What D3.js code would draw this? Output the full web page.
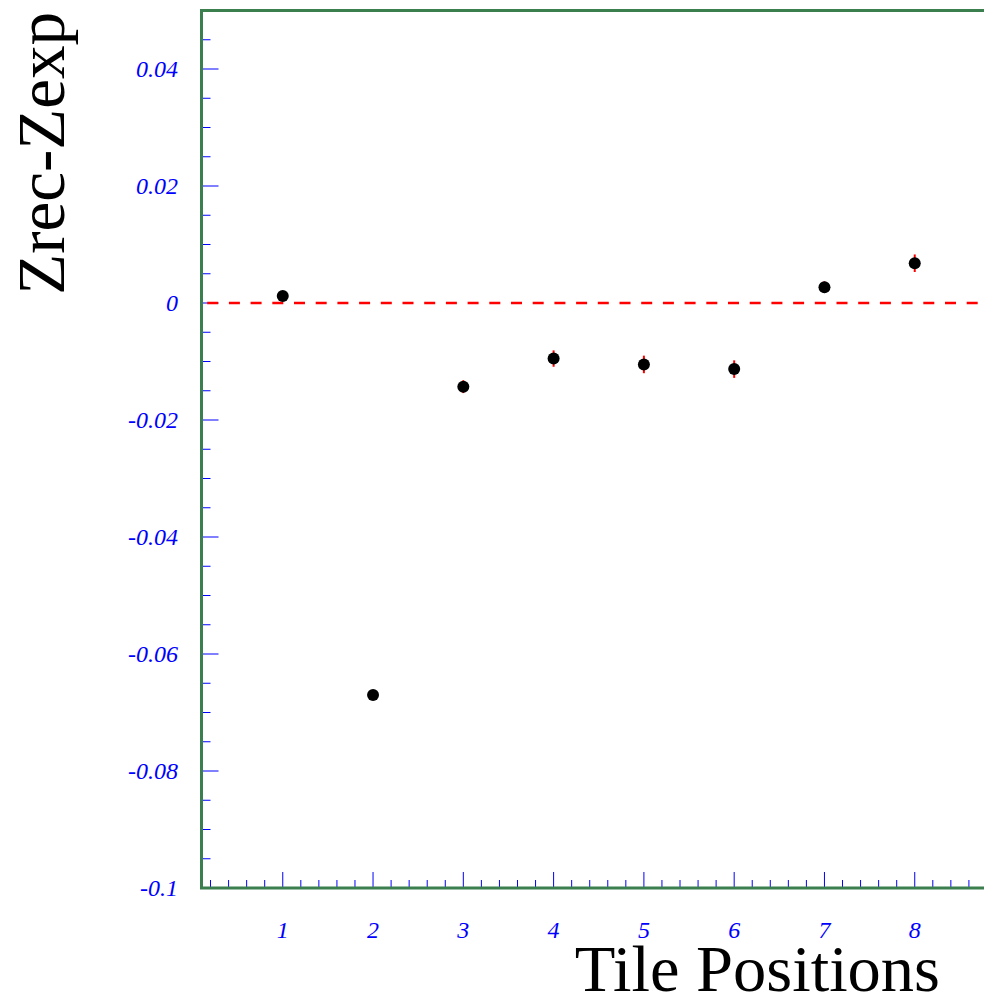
<!DOCTYPE html>
<html>
<head>
<meta charset="utf-8">
<script src="https://cdn.jsdelivr.net/npm/d3@7"></script>
<style>
  body { margin: 0; background: #fff; }
  svg { display: block; }
</style>
</head>
<body>
<script>
// tile positions and the measured offsets
var positions = [1, 2, 3, 4, 5, 6, 7, 8];
var zdiff = [0.0012, -0.0670, -0.0143, -0.0095, -0.0105, -0.0113, 0.0027, 0.0068];
var zerr = [0.0008, 0.0004, 0.0011, 0.0014, 0.0015, 0.0015, 0.0010, 0.0015];
var yLabels = ["0.04", "0.02", "0", "-0.02", "-0.04", "-0.06", "-0.08", "-0.1"];
var yLabelValues = [0.04, 0.02, 0, -0.02, -0.04, -0.06, -0.08, -0.1];

var W = 984, H = 1000;
var frameColor = "#3b7f4f";
var tickColor = "#0000ff";

var svg = d3.select("body").append("svg")
    .attr("width", W)
    .attr("height", H);

var x = d3.scaleLinear().domain([0.1, 8.9]).range([201.5, 996]);
var y = d3.scaleLinear().domain([-0.1, 0.05]).range([888, 10.5]);

// y ticks (drawn inward from the left frame)
var yMinor = d3.range(-0.1, 0.0501, 0.005).map(function(v) { return Math.round(v * 1000) / 1000; });
svg.append("g").selectAll("line")
    .data(yMinor)
  .enter().append("line")
    .attr("x1", x(0.1))
    .attr("x2", function(d) {
      var major = Math.abs(Math.round(d / 0.02) * 0.02 - d) < 1e-6;
      return x(0.1) + (major ? 17 : 9);
    })
    .attr("y1", function(d) { return y(d); })
    .attr("y2", function(d) { return y(d); })
    .style("stroke", tickColor)
    .style("stroke-width", "1px");

// x ticks (drawn upward from the bottom axis)
var xMinor = d3.range(0.2, 8.9, 0.2).map(function(v) { return Math.round(v * 10) / 10; });
svg.append("g").selectAll("line")
    .data(xMinor)
  .enter().append("line")
    .attr("x1", function(d) { return x(d); })
    .attr("x2", function(d) { return x(d); })
    .attr("y1", y(-0.1))
    .attr("y2", function(d) {
      var major = Math.abs(Math.round(d) - d) < 1e-6;
      return y(-0.1) - (major ? 16 : 8);
    })
    .style("stroke", tickColor)
    .style("stroke-width", "1px");

// frame
svg.append("path")
    .style("fill", "none")
    .style("stroke", frameColor)
    .style("stroke-width", "3px")
    .attr("d", "M" + W + "," + y(0.05) + "H" + x(0.1) + "V" + y(-0.1) + "H" + W);

// y tick labels
svg.append("g").selectAll("text")
    .data(yLabelValues)
  .enter().append("text")
    .attr("x", 178)
    .attr("y", function(d) { return y(d); })
    .attr("dy", "0.35em")
    .attr("text-anchor", "end")
    .style("font-family", "'Liberation Serif', 'Times New Roman', serif")
    .style("font-style", "italic")
    .style("font-size", "24px")
    .style("fill", tickColor)
    .text(function(d, i) { return yLabels[i]; });

// x tick labels
svg.append("g").selectAll("text")
    .data(positions)
  .enter().append("text")
    .attr("x", function(d) { return x(d); })
    .attr("y", 938)
    .attr("text-anchor", "middle")
    .style("font-family", "'Liberation Serif', 'Times New Roman', serif")
    .style("font-style", "italic")
    .style("font-size", "24px")
    .style("fill", tickColor)
    .text(function(d) { return d; });

// zero line
svg.append("line")
    .attr("x1", x(0.1))
    .attr("x2", W)
    .attr("y1", y(0))
    .attr("y2", y(0))
    .style("stroke", "#ff0000")
    .style("stroke-width", "2.5px")
    .style("stroke-dasharray", "11,10.7")
    .style("stroke-dashoffset", "16");

// error bars
svg.append("g").selectAll("line")
    .data(positions)
  .enter().append("line")
    .attr("x1", function(d) { return x(d); })
    .attr("x2", function(d) { return x(d); })
    .attr("y1", function(d, i) { return y(zdiff[i] - zerr[i]); })
    .attr("y2", function(d, i) { return y(zdiff[i] + zerr[i]); })
    .style("stroke", "#ff0000")
    .style("stroke-width", "2px");

// points
svg.append("g").selectAll("circle")
    .data(positions)
  .enter().append("circle")
    .attr("cx", function(d) { return x(d); })
    .attr("cy", function(d, i) { return y(zdiff[i]); })
    .attr("r", 6)
    .style("fill", "#000");

// axis titles
svg.append("text")
    .attr("x", 940)
    .attr("y", 991)
    .attr("text-anchor", "end")
    .style("font-family", "'Liberation Serif', 'Times New Roman', serif")
    .style("font-size", "66.5px")
    .style("fill", "#000")
    .text("Tile Positions");

svg.append("text")
    .attr("transform", "translate(64,12) rotate(-90)")
    .attr("text-anchor", "end")
    .style("font-family", "'Liberation Serif', 'Times New Roman', serif")
    .style("font-size", "67px")
    .style("fill", "#000")
    .text("Zrec-Zexp");
</script>
</body>
</html>
